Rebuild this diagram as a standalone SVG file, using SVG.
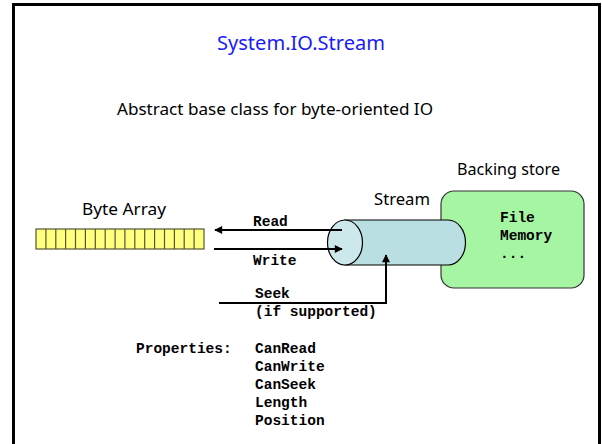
<svg xmlns="http://www.w3.org/2000/svg" width="602" height="444" viewBox="0 0 602 444">
  <style>
    .hand { font-family: "Comic Sans MS", "Noto Sans", "DejaVu Sans", sans-serif; fill: #000; }
    .mono { font-family: "Liberation Mono", "Courier New", monospace; font-weight: bold; font-size: 14.5px; fill: #000; }
    .wire { stroke: #000; stroke-width: 2; fill: none; }
    .cell { fill: #FFFF80; stroke: #555533; stroke-width: 1.2; }
  </style>
  <defs>
    <marker id="arrow" viewBox="0 0 10 10" refX="9" refY="5" markerWidth="10" markerHeight="8" markerUnits="userSpaceOnUse" orient="auto">
      <path d="M0,0 L10,5 L0,10 Z" fill="#000"/>
    </marker>
  </defs>

  <rect x="0" y="0" width="602" height="444" fill="#fff"/>
  <!-- slide frame -->
  <rect x="13.5" y="4.5" width="586" height="460" fill="none" stroke="#000" stroke-width="3"/>

  <text x="301" y="50" class="hand" font-size="19" style="fill:#1a1aff" text-anchor="middle" textLength="168" lengthAdjust="spacingAndGlyphs">System.IO.Stream</text>
  <text x="117" y="115" class="hand" font-size="15.5" textLength="316" lengthAdjust="spacingAndGlyphs">Abstract base class for byte-oriented IO</text>

  <!-- byte array -->
  <g id="byte-array">
    <text x="82" y="215" class="hand" font-size="16" textLength="84" lengthAdjust="spacingAndGlyphs">Byte Array</text>
    <rect x="36" y="229" width="168" height="20" class="cell"/>
    <path d="M45.9,229V249M55.8,229V249M65.6,229V249M75.5,229V249M85.4,229V249M95.3,229V249M105.2,229V249M115.1,229V249M124.9,229V249M134.8,229V249M144.7,229V249M154.6,229V249M164.5,229V249M174.4,229V249M184.2,229V249M194.1,229V249" stroke="#555533" stroke-width="1.2" fill="none"/>
  </g>

  <!-- backing store -->
  <g id="backing-store">
    <text x="457" y="175" class="hand" font-size="16" textLength="103" lengthAdjust="spacingAndGlyphs">Backing store</text>
    <rect x="441" y="191" width="143" height="97" rx="13" ry="13" fill="#A6F5A2" stroke="#333" stroke-width="1.2"/>
    <text x="500" y="222" class="mono">File</text>
    <text x="500" y="240" class="mono">Memory</text>
    <text x="500" y="258" class="mono">...</text>
  </g>

  <!-- stream cylinder -->
  <g id="stream">
    <text x="374" y="205" class="hand" font-size="16" textLength="56" lengthAdjust="spacingAndGlyphs">Stream</text>
    <path d="M345,220 L448,220 A17.5,22.5 0 0 1 448,265 L345,265 Z" fill="#BADFE3" stroke="#000" stroke-width="1.2"/>
    <ellipse cx="345" cy="242.5" rx="17.5" ry="22.5" fill="#CDE8EB" stroke="#000" stroke-width="1.2"/>
  </g>

  <!-- connectors -->
  <g id="connectors">
    <line x1="342" y1="230" x2="215" y2="230" class="wire" marker-end="url(#arrow)"/>
    <line x1="214" y1="249" x2="342" y2="249" class="wire" marker-end="url(#arrow)"/>
    <polyline points="219,303 386,303 386,255" class="wire" marker-end="url(#arrow)"/>
    <text x="253" y="226" class="mono">Read</text>
    <text x="253" y="265" class="mono">Write</text>
    <text x="255" y="298" class="mono">Seek</text>
    <text x="255" y="316" class="mono">(if supported)</text>
  </g>

  <!-- properties list -->
  <g id="properties">
    <text x="136" y="353" class="mono">Properties:</text>
    <text x="255" y="353" class="mono">CanRead</text>
    <text x="255" y="371" class="mono">CanWrite</text>
    <text x="255" y="389" class="mono">CanSeek</text>
    <text x="255" y="407" class="mono">Length</text>
    <text x="255" y="425" class="mono">Position</text>
  </g>
</svg>
